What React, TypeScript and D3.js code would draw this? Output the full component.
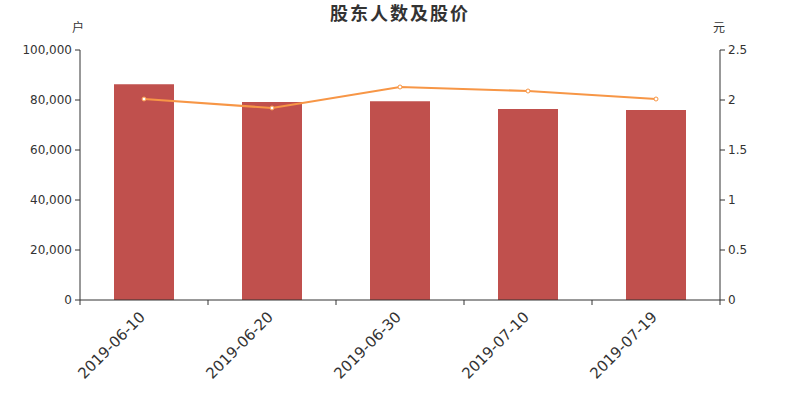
import React from "react";
import * as d3 from "d3";

const categories = ["2019-06-10", "2019-06-20", "2019-06-30", "2019-07-10", "2019-07-19"];
const holders = [86300, 79200, 79500, 76400, 76000];
const prices = [2.01, 1.92, 2.13, 2.09, 2.01];
const leftTicks = [0, 20000, 40000, 60000, 80000, 100000];
const rightTicks = [0, 0.5, 1, 1.5, 2, 2.5];

const W = 800, H = 400;
const M = { left: 80, right: 80, top: 50, bottom: 100 };
const FONT = "'DejaVu Sans', 'Noto Sans CJK SC', sans-serif";

export default function App() {
  const x = d3.scaleBand<string>().domain(categories).range([M.left, W - M.right]);
  const yL = d3.scaleLinear().domain([0, 100000]).range([H - M.bottom, M.top]);
  const yR = d3.scaleLinear().domain([0, 2.5]).range([H - M.bottom, M.top]);
  const barW = 60;
  const line = d3.line<number>()
    .x((_, i) => (x(categories[i]) as number) + x.bandwidth() / 2)
    .y((d) => yR(d));
  const fmt = d3.format(",");
  const axisColor = "#333";
  const bottom = H - M.bottom;
  const boundaries = [...categories.map((c) => x(c) as number), W - M.right];

  return (
    <svg width={W} height={H} style={{ position: "absolute", left: 0, top: 0 }} fontFamily={FONT}>
      <rect width={W} height={H} fill="#fff" />
      <text x={400} y={20} textAnchor="middle" fontSize={18} fontWeight="bold" fill="#333" letterSpacing={2}>
        股东人数及股价
      </text>
      <text x={78} y={32} textAnchor="middle" fontSize={12} fill="#333">户</text>
      <text x={719} y={32} textAnchor="middle" fontSize={12} fill="#333">元</text>

      {holders.map((v, i) => (
        <rect key={i}
          x={(x(categories[i]) as number) + (x.bandwidth() - barW) / 2}
          y={yL(v)} width={barW} height={bottom - yL(v)} fill="#c0504d" />
      ))}

      {/* left axis */}
      <line x1={M.left} x2={M.left} y1={M.top} y2={bottom} stroke={axisColor} />
      {leftTicks.map((t) => (
        <g key={t}>
          <line x1={M.left - 5} x2={M.left} y1={yL(t)} y2={yL(t)} stroke={axisColor} />
          <text x={M.left - 8} y={yL(t)} dy="0.35em" textAnchor="end" fontSize={12} fill="#333">{fmt(t)}</text>
        </g>
      ))}
      {/* right axis */}
      <line x1={W - M.right} x2={W - M.right} y1={M.top} y2={bottom} stroke={axisColor} />
      {rightTicks.map((t) => (
        <g key={t}>
          <line x1={W - M.right} x2={W - M.right + 5} y1={yR(t)} y2={yR(t)} stroke={axisColor} />
          <text x={W - M.right + 8} y={yR(t)} dy="0.35em" textAnchor="start" fontSize={12} fill="#333">{String(t)}</text>
        </g>
      ))}
      {/* bottom axis */}
      <line x1={M.left} x2={W - M.right} y1={bottom} y2={bottom} stroke={axisColor} />
      {boundaries.map((b, i) => (
        <line key={i} x1={b} x2={b} y1={bottom} y2={bottom + 5} stroke={axisColor} />
      ))}
      {categories.map((c) => {
        const cx = (x(c) as number) + x.bandwidth() / 2;
        return (
          <text key={c} transform={`translate(${cx + 2},${bottom + 18}) rotate(-45)`}
            textAnchor="end" fontSize={15} fill="#333">{c}</text>
        );
      })}

      <path d={line(prices) as string} fill="none" stroke="#f79646" strokeWidth={2} />
      {prices.map((p, i) => (
        <circle key={i} cx={(x(categories[i]) as number) + x.bandwidth() / 2} cy={yR(p)} r={2}
          fill="#fff" stroke="#f79646" strokeWidth={1} />
      ))}
    </svg>
  );
}
